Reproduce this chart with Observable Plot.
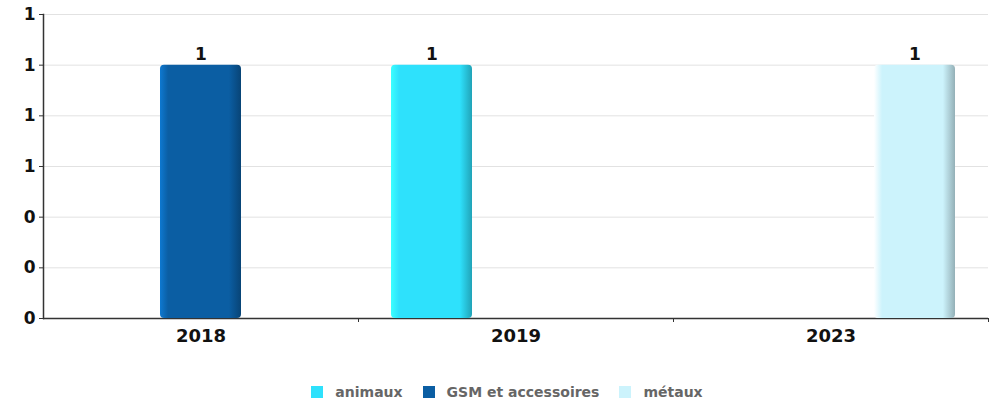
<!DOCTYPE html>
<html>
<head>
<meta charset="utf-8">
<script src="https://cdn.jsdelivr.net/npm/d3@7"></script>
<script src="https://cdn.jsdelivr.net/npm/@observablehq/plot@0.6"></script>
<style>
  html, body { margin: 0; padding: 0; background: #fff; }
  #wrap { width: 998px; height: 404px; font-family: "DejaVu Sans", sans-serif; }
  #legend { display: flex; justify-content: center; align-items: center; padding-top: 24px; padding-left: 16px;
            font-size: 14px; font-weight: bold; color: #666; }
  .item { display: flex; align-items: center; margin: 0 10px; }
  .sw { width: 12px; height: 12px; margin-right: 12px; }
</style>
</head>
<body>
<div id="wrap"><div id="chart"></div><div id="legend"></div></div>
<script>
// ---- data ----
const years = ["2018", "2019", "2023"];
const series = ["animaux", "GSM et accessoires", "métaux"];
const colors = ["#2ee1fc", "#0b5ea3", "#ccf3fc"];
const barYears = ["2018", "2019", "2023"];
const barSeries = ["GSM et accessoires", "animaux", "métaux"];
const barValues = [1, 1, 1];
const yTicks = [0, 0.2, 0.4, 0.6, 0.8, 1.0, 1.2];

const rows = barYears.map((y, i) => ({year: y, series: barSeries[i], value: barValues[i]}));
const gradIds = series.map((s, i) => `grad${i}`);
const fmt = d3.format(".0f");

const W = 998, H = 360, ML = 43, MR = 10;
const halfFacet = (W - ML - MR) / years.length / 2;

const chart = Plot.plot({
  width: W, height: H,
  marginLeft: ML, marginRight: MR, marginTop: 14, marginBottom: 42,
  style: {fontFamily: "DejaVu Sans", fontWeight: "bold", fontSize: "17px", color: "#111", background: "#fff", overflow: "visible"},
  fx: {domain: years, padding: 0, label: null, axis: null},
  x: {domain: series, paddingInner: 0.03, paddingOuter: 0.39, axis: null},
  y: {domain: [0, 1.2], axis: null},
  color: {domain: series, range: gradIds.map(id => `url(#${id})`)},
  marks: [
    Plot.gridY(yTicks.slice(1), {stroke: "#e2e2e2", strokeOpacity: 1}),
    Plot.axisY(yTicks, {tickSize: 4, tickPadding: 4, tickFormat: fmt, label: null, fontSize: 17, fontWeight: "bold", stroke: "#333"}),
    Plot.frame({anchor: "left", facetAnchor: "left", stroke: "#333", strokeWidth: 1.5}),
    Plot.ruleY([0], {stroke: "#333", strokeWidth: 1.5}),
    Plot.axisFx({anchor: "bottom", tickSize: 4, dx: halfFacet, tickFormat: () => "", label: null, stroke: "#333"}),
    Plot.axisFx({anchor: "bottom", tickSize: 0, tickPadding: 11, label: null, fontSize: 18, fontWeight: "bold"}),
    Plot.barY(rows, {fx: "year", x: "series", y: "value", fill: "series", rx: 4}),
    Plot.text(rows, {fx: "year", x: "series", y: "value", text: d => fmt(d.value), dy: -11, fontSize: 17, fontWeight: "bold", fill: "#111"})
  ]
});

// gradients for the bevelled bar look
const defs = d3.select(chart).insert("defs", ":first-child");
series.forEach((s, i) => {
  const base = d3.color(colors[i]);
  const g = defs.append("linearGradient").attr("id", gradIds[i]).attr("x1", 0).attr("x2", 1).attr("y1", 0).attr("y2", 0);
  g.append("stop").attr("offset", "0").attr("stop-color", base.brighter(0.7).formatHex());
  g.append("stop").attr("offset", "0.1").attr("stop-color", base.formatHex());
  g.append("stop").attr("offset", "0.85").attr("stop-color", base.formatHex());
  g.append("stop").attr("offset", "1").attr("stop-color", base.darker(0.9).formatHex());
});

document.getElementById("chart").appendChild(chart);

const legend = document.getElementById("legend");
series.forEach((s, i) => {
  const item = document.createElement("div");
  item.className = "item";
  const sw = document.createElement("span");
  sw.className = "sw";
  sw.style.background = colors[i];
  const t = document.createElement("span");
  t.textContent = s;
  item.appendChild(sw); item.appendChild(t);
  legend.appendChild(item);
});
</script>
</body>
</html>
